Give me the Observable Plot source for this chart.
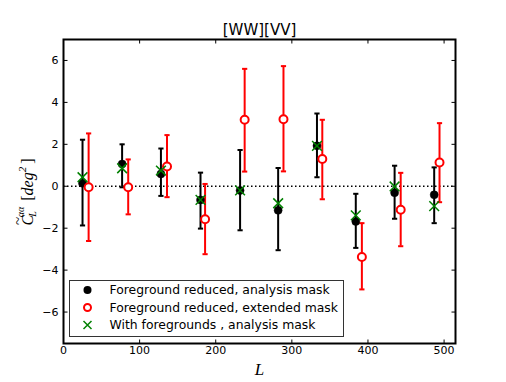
<!DOCTYPE html>
<html><head><meta charset="utf-8">
<script src="https://cdn.jsdelivr.net/npm/d3@7"></script>
<script src="https://cdn.jsdelivr.net/npm/@observablehq/plot@0.6"></script>
<style>body{margin:0;background:#fff}#chart{width:506px;height:382px}</style>
</head><body><div id="chart"></div>
<script>
const title = "[WW][VV]";
const seriesLabels = ["Foreground reduced, analysis mask", "Foreground reduced, extended mask", "With foregrounds , analysis mask"];
const L_analysis = [25, 77, 128, 180, 232, 282, 333, 384, 435, 487];
const L_extended = [33, 85, 136, 186, 238, 289, 340, 392, 443, 494];
const C_reduced = [0.14, 1.06, 0.59, -0.65, -0.2, -1.15, 1.93, -1.68, -0.31, -0.41];
const lo_reduced = [-1.87, -0.05, -0.46, -2.02, -2.1, -3.05, 0.43, -2.94, -1.55, -1.76];
const hi_reduced = [2.22, 2.0, 1.8, 0.65, 1.73, 0.87, 3.47, -0.36, 0.98, 0.9];
const C_extended = [-0.05, -0.05, 0.94, -1.57, 3.17, 3.2, 1.3, -3.37, -1.12, 1.13];
const lo_extended = [-2.61, -1.34, -0.52, -3.24, 0.7, 0.71, -0.62, -4.92, -2.86, -0.76];
const hi_extended = [2.52, 1.28, 2.44, 0.11, 5.6, 5.73, 3.17, -1.76, 0.64, 3.01];
const C_foreground = [0.43, 0.86, 0.75, -0.65, -0.2, -0.81, 1.93, -1.39, -0.01, -0.95];
const xTicks = [0, 100, 200, 300, 400, 500];
const yTicks = [-6, -4, -2, 0, 2, 4, 6];

const reduced = L_analysis.map((L, i) => ({L, C: C_reduced[i], lo: lo_reduced[i], hi: hi_reduced[i]}));
const extended = L_extended.map((L, i) => ({L, C: C_extended[i], lo: lo_extended[i], hi: hi_extended[i]}));
const withFg = L_analysis.map((L, i) => ({L, C: C_foreground[i]}));

const cap = {draw(ctx) { ctx.moveTo(-2.6, 0); ctx.lineTo(2.6, 0); }};
const tB = {draw(ctx) { ctx.moveTo(0, 0); ctx.lineTo(0, -4); }};
const tT = {draw(ctx) { ctx.moveTo(0, 0); ctx.lineTo(0, 4); }};
const tL = {draw(ctx) { ctx.moveTo(0, 0); ctx.lineTo(4, 0); }};
const tR = {draw(ctx) { ctx.moveTo(0, 0); ctx.lineTo(-4, 0); }};

const FONT = "DejaVu Sans, Bitstream Vera Sans, sans-serif";
const SERIF = "Liberation Serif, DejaVu Serif, serif";

const chart = Plot.plot({
  width: 506, height: 382,
  marginLeft: 63, marginRight: 51, marginTop: 39, marginBottom: 39,
  style: {fontFamily: FONT, fontSize: "11px", color: "black", background: "white"},
  x: {domain: [0, 515]},
  y: {domain: [-7.5, 7]},
  marks: [
    Plot.ruleY([0], {stroke: "black", strokeWidth: 1.5, strokeDasharray: "1.5,2.5"}),
    Plot.ruleX(reduced, {x: "L", y1: "lo", y2: "hi", stroke: "black", strokeWidth: 2}),
    Plot.dot(reduced, {x: "L", y: "lo", symbol: cap, stroke: "black", strokeWidth: 2}),
    Plot.dot(reduced, {x: "L", y: "hi", symbol: cap, stroke: "black", strokeWidth: 2}),
    Plot.ruleX(extended, {x: "L", y1: "lo", y2: "hi", stroke: "red", strokeWidth: 2}),
    Plot.dot(extended, {x: "L", y: "lo", symbol: cap, stroke: "red", strokeWidth: 2}),
    Plot.dot(extended, {x: "L", y: "hi", symbol: cap, stroke: "red", strokeWidth: 2}),
    Plot.dot(reduced, {x: "L", y: "C", r: 4, fill: "black", stroke: "black", strokeWidth: 0.5}),
    Plot.dot(extended, {x: "L", y: "C", r: 4, fill: "white", stroke: "red", strokeWidth: 2}),
    Plot.dot(withFg, {x: "L", y: "C", r: 4.5, symbol: "times", stroke: "#008000", strokeWidth: 1.5}),
    Plot.frame({stroke: "black", strokeWidth: 2}),
    Plot.dot(xTicks, {x: d => d, frameAnchor: "bottom", symbol: tB, stroke: "black", strokeWidth: 1}),
    Plot.dot(xTicks, {x: d => d, frameAnchor: "top", symbol: tT, stroke: "black", strokeWidth: 1}),
    Plot.dot(yTicks, {y: d => d, frameAnchor: "left", symbol: tL, stroke: "black", strokeWidth: 1}),
    Plot.dot(yTicks, {y: d => d, frameAnchor: "right", symbol: tR, stroke: "black", strokeWidth: 1}),
    Plot.axisX({ticks: xTicks, tickSize: 0, tickPadding: 3, label: null, fontSize: 11}),
    Plot.axisY({ticks: yTicks, tickSize: 0, tickPadding: 5, label: null, fontSize: 11}),
    Plot.text([title], {frameAnchor: "top", dy: -5, lineAnchor: "bottom", fontSize: 15, fill: "black"}),
    Plot.text(["L"], {frameAnchor: "bottom", dy: 31, lineAnchor: "bottom", fontSize: 17, fontStyle: "italic", fontFamily: SERIF, fill: "black"})
  ]
});
document.getElementById("chart").appendChild(chart);

const svg = d3.select(chart);
// y label
const yl = svg.append("text")
  .attr("transform", "translate(33,192) rotate(-90)")
  .attr("text-anchor", "middle")
  .attr("font-family", SERIF)
  .attr("font-size", 16)
  .attr("fill", "black");
yl.append("tspan").attr("font-style", "italic").text("C");
yl.append("tspan").attr("font-size", 15).attr("dx", -10).attr("dy", -10).text("~");
yl.append("tspan").attr("font-style", "italic").attr("font-size", 10).attr("dx", 0).attr("dy", 13).text("L");
yl.append("tspan").attr("font-style", "italic").attr("font-size", 10).attr("dx", -6).attr("dy", -12).text("αα");
yl.append("tspan").attr("dx", 6).attr("dy", 9).text("[");
yl.append("tspan").attr("font-style", "italic").text("deg");
yl.append("tspan").attr("font-style", "italic").attr("font-size", 11).attr("dy", -7).text("2");
yl.append("tspan").attr("dx", 3).attr("dy", 7).text("]");

// legend
const lg = svg.append("g").attr("font-family", FONT).attr("font-size", 12.4).attr("text-anchor", "start");
lg.append("rect").attr("x", 69.5).attr("y", 280.5).attr("width", 274).attr("height", 56)
  .attr("fill", "white").attr("stroke", "#333").attr("stroke-width", 1);
const rowsY = [290, 307.5, 325];
lg.append("circle").attr("cx", 87.5).attr("cy", rowsY[0]).attr("r", 4).attr("fill", "black");
lg.append("circle").attr("cx", 87.5).attr("cy", rowsY[1]).attr("r", 3.5).attr("fill", "white").attr("stroke", "red").attr("stroke-width", 2);
lg.append("path").attr("d", `M83.5,${rowsY[2]-4}L91.5,${rowsY[2]+4}M83.5,${rowsY[2]+4}L91.5,${rowsY[2]-4}`)
  .attr("stroke", "#008000").attr("stroke-width", 1.5);
seriesLabels.forEach((t, i) => {
  lg.append("text").attr("x", 109.5).attr("y", rowsY[i]).attr("dy", "0.36em").attr("fill", "black").attr("text-anchor", "start").text(t);
});
</script>
</body></html>
